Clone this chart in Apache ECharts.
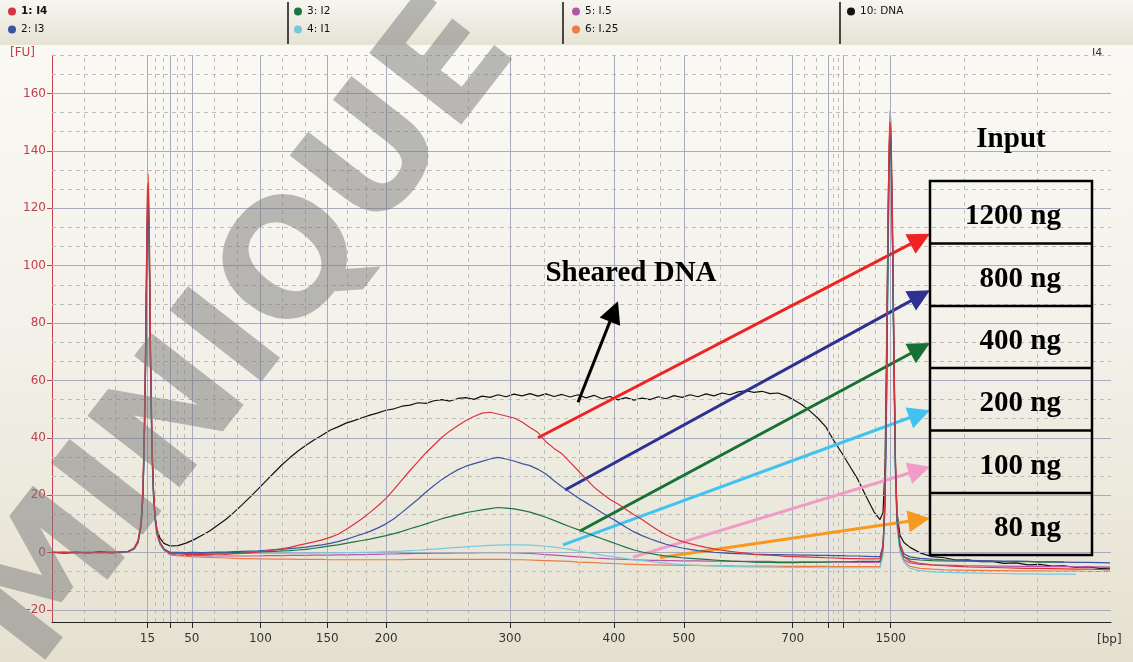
<!DOCTYPE html>
<html>
<head>
<meta charset="utf-8">
<title>Electropherogram</title>
<script src="https://cdn.jsdelivr.net/npm/echarts@6/dist/echarts.min.js"></script>
<style>
  html, body { margin: 0; padding: 0; }
  #chart { width: 1133px; height: 662px; }
</style>
</head>
<body>
<div id="chart"></div>
<script>
// migration position of each sample (bp scale is non-linear)
const xs = [
  0, 12, 24, 36, 48, 60, 70,
  76, 82, 86, 89, 91, 93, 94.5, 95.5, 96.3, 97.3, 98.5, 100, 101.5, 103, 105, 108, 112, 118,
  126, 134, 142, 150, 158, 166, 174, 182, 190, 198,
  206, 214, 222, 230, 238, 246, 254, 262, 270, 278,
  286, 294, 302, 310, 318, 326, 334, 342, 350, 358,
  366, 374, 382, 390, 398, 406, 414, 422, 430, 438,
  446, 454, 462, 470, 478, 486, 494, 502, 510, 518,
  526, 534, 542, 550, 558, 566, 574, 582, 590, 598,
  606, 614, 622, 630, 638, 646, 654, 662, 670, 678,
  686, 694, 702, 710, 718, 726, 734, 742, 750, 758,
  766, 774, 782, 790, 798, 806, 814, 822,
  828, 831, 833, 834.5, 836, 837, 838, 839, 840.5, 842, 843.5, 845, 848, 852, 858,
  868, 880, 892, 904, 916, 928, 940, 952, 964, 976, 988, 1000, 1012, 1024, 1036, 1048, 1058
];

// bp tick marks (position on the migration axis -> label)
const tickPos = [95.5, 118.4, 139.8, 208.4, 275.3, 334.3, 457.9, 562, 632, 740.7, 776.3, 791.3, 838.7];
const tickLabels = ['15', '', '50', '100', '150', '200', '300', '400', '500', '700', '', '', '1500'];
const fuTicks = [-20, 0, 20, 40, 60, 80, 100, 120, 140, 160];

// fluorescence [FU]
const dna = [
  0.2, -0.3, 0.1, -0.2, 0.3, 0.0, 0.2,
  0.4, 1.2, 3.5, 9, 20, 50, 90, 117, 120, 105, 68, 36, 21, 13, 8, 5, 3.2, 2.3,
  2.4, 3.3, 4.5, 6.0, 7.6, 9.6, 11.6, 14.0, 16.6, 19.3,
  22.1, 25.0, 27.8, 30.6, 33.1, 35.4, 37.4, 39.2, 40.9, 42.6,
  43.8, 45.1, 46.0, 47.0, 47.9, 48.7, 49.6, 50.1, 51.0, 51.4,
  52.2, 52.0, 52.9, 53.3, 52.8, 53.7, 54.0, 53.4, 54.5, 54.1,
  55.0, 54.3, 55.2, 54.6, 55.4, 54.5, 55.3, 54.4, 55.1, 54.2,
  55.0, 53.9, 54.8, 53.6, 54.4, 53.2, 54.0, 53.1, 53.8, 53.3,
  54.3, 53.6, 54.7, 54.1, 55.0, 54.3, 55.3, 54.6, 55.6, 55.0,
  56.0, 56.4, 55.8, 56.2, 55.4, 55.6, 54.6, 53.2, 51.5, 49.3,
  46.8, 43.7, 38.9, 34.6, 30.0, 25.4, 19.6, 14.2,
  11.5, 14, 30, 70, 115, 140, 147, 142, 110, 65, 30, 14, 6, 3.5, 1.8,
  -0.1, -1.4, -1.8, -2.6, -2.5, -3.2, -3.1, -3.8, -3.6, -4.3, -4.1, -4.7, -4.6, -5.2, -5.0, -5.5, -5.4
];
const i4 = [
  0.1, 0.0, 0.2, -0.1, 0.1, 0.0, 0.3,
  0.3, 1.5, 4, 10, 22, 56, 100, 126, 129, 112, 72, 38, 22, 13, 7, 3.5, 1.2, -0.3,
  -0.4, -0.6, -0.7, -0.6, -0.7, -0.5, -0.6, -0.4, -0.3, -0.1,
  0.2, 0.5, 0.9, 1.3, 1.8, 2.5, 3.1, 3.7, 4.4, 5.3,
  6.4, 8.0, 9.9, 11.8, 14.0, 16.3, 18.9, 22.0, 25.3, 28.6,
  31.7, 34.8, 37.5, 40.2, 42.4, 44.3, 46.0, 47.4, 48.6, 48.9,
  48.3, 47.6, 46.9, 45.5, 43.6, 41.8, 38.6, 36.3, 34.4, 31.5,
  28.6, 25.7, 22.8, 20.6, 18.5, 16.9, 15.0, 13.2, 11.5, 9.6,
  7.8, 6.2, 4.9, 3.9, 3.1, 2.4, 1.8, 1.3, 0.8, 0.4,
  0.1, -0.2, -0.6, -0.8, -0.9, -1.1, -1.3, -1.4, -1.5, -1.6,
  -1.7, -1.8, -1.9, -2.0, -2.1, -2.1, -2.2, -2.2,
  -2.1, 2, 20, 60, 115, 140, 150, 147, 115, 70, 32, 13, 3, -1.5, -3,
  -3.8, -4.3, -4.6, -4.8, -5.0, -5.1, -5.2, -5.3, -5.4, -5.5, -5.5, -5.6, -5.7, -5.8, -5.8, -5.9, -6.0
];
const i3 = [
  0.0, 0.2, -0.1, 0.1, 0.0, 0.2, 0.1,
  0.3, 1.4, 3.8, 9.5, 21, 53, 95, 120, 124, 106, 68, 36, 21, 12.5, 7, 3.5, 1.3, 0.1,
  0.1, 0.0, 0.1, 0.0, 0.1, 0.2, 0.2, 0.3, 0.4, 0.5,
  0.6, 0.8, 1.0, 1.2, 1.4, 1.6, 1.9, 2.3, 2.7, 3.2,
  3.8, 4.6, 5.5, 6.4, 7.4, 8.6, 10.0, 11.8, 14.0, 16.3,
  18.6, 21.1, 23.4, 25.5, 27.3, 28.9, 30.1, 31.0, 31.8, 32.6,
  33.2, 32.6, 31.9, 31.0, 30.3, 29.0, 27.4, 25.0, 22.9, 21.0,
  19.1, 17.4, 15.7, 13.9, 12.2, 10.6, 8.8, 7.2, 5.9, 4.8,
  3.8, 2.9, 2.2, 1.6, 1.1, 0.7, 0.4, 0.1, -0.1, -0.3,
  -0.4, -0.5, -0.6, -0.6, -0.7, -0.7, -0.8, -0.8, -0.9, -0.9,
  -1.0, -1.0, -1.1, -1.1, -1.2, -1.2, -1.3, -1.4,
  -1.4, 2.5, 18, 55, 108, 135, 146, 143, 110, 66, 30, 12, 3, -0.5, -1.5,
  -2.0, -2.3, -2.5, -2.6, -2.7, -2.8, -2.9, -3.0, -3.0, -3.1, -3.2, -3.2, -3.3, -3.4, -3.4, -3.5, -3.6
];
const i2 = [
  0.1, -0.1, 0.2, 0.0, 0.1, -0.1, 0.2,
  0.3, 1.3, 3.6, 9, 20, 51, 92, 117, 121, 104, 66, 35, 20, 12, 6.5, 3.2, 1.1, -0.1,
  -0.1, -0.2, -0.1, -0.2, -0.1, 0.0, -0.1, 0.0, 0.1, 0.1,
  0.2, 0.3, 0.4, 0.6, 0.7, 0.9, 1.1, 1.5, 1.9, 2.3,
  2.7, 3.2, 3.7, 4.2, 4.7, 5.3, 5.9, 6.6, 7.4, 8.3,
  9.1, 10.0, 10.9, 11.8, 12.5, 13.2, 13.9, 14.4, 14.9, 15.3,
  15.7, 15.5, 15.2, 14.7, 14.1, 13.2, 12.3, 11.2, 10.1, 9.0,
  8.0, 6.9, 5.8, 4.8, 3.8, 2.8, 1.8, 0.9, 0.2, -0.3,
  -0.8, -1.2, -1.5, -1.8, -2.0, -2.2, -2.4, -2.6, -2.8, -3.0,
  -3.1, -3.2, -3.3, -3.4, -3.4, -3.5, -3.5, -3.5, -3.4, -3.4,
  -3.3, -3.3, -3.2, -3.2, -3.2, -3.1, -3.1, -3.1,
  -3.1, 1.5, 17, 52, 104, 132, 143, 140, 108, 63, 28, 11, 2, -1.5, -2.3,
  -2.6, -2.8, -2.9, -3.0, -3.0, -3.1, -3.1, -3.2, -3.2, -3.2, -3.3, -3.3, -3.3, null, null, null, null
];
const i1 = [
  0.1, 0.0, 0.1, -0.1, 0.0, 0.1, 0.0,
  0.2, 1.2, 3.5, 8.5, 19, 48, 88, 113, 118, 100, 63, 33, 19, 11, 6, 2.8, 0.9, -0.2,
  -0.2, -0.3, -0.3, -0.3, -0.3, -0.3, -0.3, -0.3, -0.3, -0.3,
  -0.3, -0.3, -0.3, -0.3, -0.2, -0.2, -0.2, -0.2, -0.1, -0.1,
  -0.1, 0.0, 0.0, 0.1, 0.1, 0.2, 0.3, 0.4, 0.5, 0.7,
  0.8, 1.0, 1.2, 1.4, 1.6, 1.8, 2.0, 2.2, 2.3, 2.5,
  2.6, 2.7, 2.7, 2.7, 2.6, 2.4, 2.2, 1.9, 1.5, 1.1,
  0.6, 0.1, -0.4, -0.9, -1.3, -1.7, -2.1, -2.5, -2.8, -3.1,
  -3.4, -3.7, -4.0, -4.2, -4.4, -4.5, -4.6, -4.7, -4.8, -4.9,
  -4.9, -5.0, -5.0, -5.1, -5.1, -5.1, -5.2, -5.2, -5.2, -5.2,
  -5.3, -5.3, -5.3, -5.3, -5.3, -5.3, -5.3, -5.3,
  -5.3, -1, 14, 48, 98, 125, 138, 136, 104, 60, 26, 9, 0, -3.5, -5.5,
  -6.3, -6.7, -6.9, -7.0, -7.1, -7.2, -7.3, -7.3, -7.4, -7.4, -7.5, -7.5, -7.5, -7.6, null, null, null
];
const i05 = [
  0.0, 0.1, -0.1, 0.1, 0.0, 0.0, 0.1,
  0.2, 1.3, 3.6, 9, 20, 50, 91, 116, 120, 103, 65, 34, 20, 11.5, 6.2, 3, 0.8, -0.6,
  -0.9, -1.0, -1.1, -1.1, -1.2, -1.2, -1.2, -1.2, -1.2, -1.2,
  -1.2, -1.1, -1.1, -1.1, -1.0, -1.0, -1.0, -0.9, -0.9, -0.9,
  -0.8, -0.8, -0.7, -0.7, -0.6, -0.6, -0.5, -0.5, -0.4, -0.4,
  -0.3, -0.3, -0.2, -0.2, -0.2, -0.1, -0.1, -0.1, 0.0, 0.0,
  0.0, 0.0, -0.1, -0.2, -0.3, -0.5, -0.7, -0.9, -1.1, -1.3,
  -1.5, -1.7, -1.9, -2.0, -2.2, -2.3, -2.4, -2.5, -2.6, -2.7,
  -2.7, -2.8, -2.8, -2.9, -2.9, -2.9, -3.0, -3.0, -3.0, -3.0,
  -3.1, -3.1, -3.1, -3.1, -3.1, -3.2, -3.2, -3.2, -3.2, -3.2,
  -3.3, -3.3, -3.3, -3.3, -3.3, -3.4, -3.4, -3.4,
  -3.4, 1, 16, 50, 102, 130, 144, 141, 108, 63, 28, 10, 1, -2.5, -3.6,
  -4.1, -4.3, -4.4, -4.5, -4.6, -4.6, -4.7, -4.7, -4.8, -4.8, -4.8, -4.9, -4.9, -5.0, -5.0, -5.0, -5.1
];
const i025 = [
  0.0, -0.1, 0.1, 0.0, -0.1, 0.1, 0.0,
  0.4, 1.6, 4.2, 11, 24, 58, 102, 128, 132, 114, 73, 39, 22, 13, 7, 3.3, 0.8, -0.8,
  -1.1, -1.3, -1.5, -1.6, -1.7, -1.8, -1.9, -2.0, -2.1, -2.1,
  -2.2, -2.2, -2.3, -2.3, -2.3, -2.4, -2.4, -2.4, -2.4, -2.5,
  -2.5, -2.5, -2.5, -2.5, -2.5, -2.5, -2.5, -2.5, -2.5, -2.4,
  -2.4, -2.4, -2.4, -2.4, -2.4, -2.4, -2.4, -2.4, -2.4, -2.4,
  -2.4, -2.4, -2.5, -2.5, -2.6, -2.7, -2.8, -2.9, -3.0, -3.1,
  -3.3, -3.4, -3.5, -3.7, -3.8, -3.9, -4.0, -4.1, -4.2, -4.3,
  -4.3, -4.4, -4.4, -4.5, -4.5, -4.5, -4.6, -4.6, -4.6, -4.6,
  -4.7, -4.7, -4.7, -4.7, -4.7, -4.8, -4.8, -4.8, -4.8, -4.8,
  -4.8, -4.8, -4.9, -4.9, -4.9, -4.9, -4.9, -4.9,
  -4.9, 0, 18, 58, 114, 142, 154, 150, 117, 70, 31, 11, 1, -3, -4.8,
  -5.5, -5.8, -6.0, -6.1, -6.2, -6.2, -6.3, -6.3, -6.4, -6.4, -6.4, -6.5, -6.5, -6.5, -6.6, -6.6, -6.6
];

// annotation arrows: [position, FU] tail -> tip
const arrowFrom = [[486, 40.0], [513, 21.8], [528, 7.5], [511, 2.7], [581, -1.6], [608, -1.7]];
const arrowTo = [[878, 111.1], [878, 91.4], [878, 73.0], [878, 49.6], [878, 29.9], [878, 12.0]];
const arrowColors = ['#ee2424', '#2e3192', '#177034', '#41c2f1', '#f29bc7', '#f7981f'];
const shearedFrom = [526, 52.4];
const shearedTo = [566, 87.6];
const inputLabels = ['1200 ng', '800 ng', '400 ng', '200 ng', '100 ng', '80 ng'];

const X_MIN = 0, X_MAX = 1059, Y_MIN = -24.2, Y_MAX = 173.4;

const traces = [
  { name: '10: DNA', color: '#111111', values: dna },
  { name: '6: I.25', color: '#ec7b45', values: i025 },
  { name: '5: I.5', color: '#b457a8', values: i05 },
  { name: '4: I1', color: '#78c9dc', values: i1 },
  { name: '3: I2', color: '#1f7444', values: i2 },
  { name: '2: I3', color: '#3b54a3', values: i3 },
  { name: '1: I4', color: '#da3340', values: i4 }
];

// grid lines: solid at ticks, dashed thirds in between
const solid = { color: '#a7abbd', width: 1, type: 'solid' };
const dashed = { color: '#bdbdbd', width: 1, type: [4, 4] };
const gridLines = [];
const bounds = [X_MIN, ...tickPos, X_MAX];
for (let i = 0; i < bounds.length - 1; i++) {
  const a = bounds[i], b = bounds[i + 1];
  gridLines.push({ xAxis: a + (b - a) / 3, lineStyle: dashed });
  gridLines.push({ xAxis: a + (b - a) * 2 / 3, lineStyle: dashed });
}
fuTicks.forEach(v => {
  [v + 20 / 3, v + 40 / 3, v - 20 / 3].forEach(d => {
    if (d > Y_MIN && d <= Y_MAX && !(v > -20 && d < v)) gridLines.push({ yAxis: d, lineStyle: dashed });
  });
});
tickPos.forEach(p => gridLines.push({ xAxis: p, lineStyle: solid }));
fuTicks.forEach(v => gridLines.push({ yAxis: v, lineStyle: solid }));

const chart = echarts.init(document.getElementById('chart'));

const legendCol = (left, names) => ({
  left: left, top: 6, orient: 'vertical', padding: 0, itemGap: 7,
  itemWidth: 8, itemHeight: 8, icon: 'circle', selectedMode: false, z: 10,
  textStyle: { fontFamily: 'DejaVu Sans', fontSize: 10.5, color: '#111' },
  data: names
});

const rowTop = [181, 243.5, 306, 368, 430.5, 493];

chart.setOption({
  animation: false,
  backgroundColor: new echarts.graphic.LinearGradient(0, 0, 0, 1, [
    { offset: 0, color: '#fbfaf6' },
    { offset: 0.5, color: '#f3f1e9' },
    { offset: 1, color: '#e5e1d1' }
  ]),
  grid: { left: 52, right: 22, top: 55, bottom: 40 },
  legend: [
    legendCol(8, [{ name: '1: I4', textStyle: { fontWeight: 'bold' } }, '2: I3']),
    legendCol(294, ['3: I2', '4: I1']),
    legendCol(572, ['5: I.5', '6: I.25']),
    legendCol(847, ['10: DNA'])
  ],
  xAxis: {
    type: 'value', min: X_MIN, max: X_MAX,
    axisLine: { onZero: false, lineStyle: { color: '#222', width: 1 } },
    axisTick: { show: true, customValues: tickPos, length: 6, lineStyle: { color: '#222' } },
    axisLabel: {
      customValues: tickPos, margin: 11, color: '#333', fontSize: 12, fontFamily: 'DejaVu Sans',
      formatter: v => {
        const i = tickPos.findIndex(p => Math.abs(p - v) < 0.01);
        return i >= 0 ? tickLabels[i] : '';
      }
    },
    splitLine: { show: false }
  },
  yAxis: {
    type: 'value', min: Y_MIN, max: Y_MAX,
    axisLine: { show: true, onZero: false, lineStyle: { color: '#c8414f', width: 1 } },
    axisTick: { show: true, customValues: fuTicks, length: 5, lineStyle: { color: '#c8414f' } },
    axisLabel: { customValues: fuTicks, margin: 6, color: '#c0404e', fontSize: 12, fontFamily: 'DejaVu Sans' },
    splitLine: { show: false }
  },
  graphic: [
    { type: 'rect', shape: { x: 0, y: 0, width: 1133, height: 45 }, z: 0, silent: true,
      style: { fill: new echarts.graphic.LinearGradient(0, 0, 0, 1, [
        { offset: 0, color: '#f6f5ef' }, { offset: 1, color: '#e6e3d4' }]) } },
    ...[288, 563, 840].map(x => ({ type: 'line', z: 1, silent: true,
      shape: { x1: x, y1: 2, x2: x, y2: 44 }, style: { stroke: '#111', lineWidth: 1.5 } })),
    { type: 'text', x: 10, y: 53, z: 5, silent: true,
      style: { text: '[FU]', fill: '#c0404e', font: '12px DejaVu Sans', textVerticalAlign: 'middle' } },
    { type: 'text', x: 1092, y: 53, z: 5, silent: true,
      style: { text: 'I4', fill: '#333', font: '11px DejaVu Sans', textVerticalAlign: 'middle' } },
    { type: 'text', x: 1097, y: 640, z: 5, silent: true,
      style: { text: '[bp]', fill: '#333', font: '12px DejaVu Sans', textVerticalAlign: 'middle' } },
    { type: 'text', x: 631, y: 274, z: 20, silent: true,
      style: { text: 'Sheared DNA', fill: '#000', font: 'bold 29px "Liberation Serif"',
        textAlign: 'center', textVerticalAlign: 'middle' } },
    { type: 'text', x: 1011, y: 140, z: 20, silent: true,
      style: { text: 'Input', fill: '#000', font: 'bold 29px "Liberation Serif"',
        textAlign: 'center', textVerticalAlign: 'middle' } },
    { type: 'rect', z: 20, silent: true, shape: { x: 930, y: 181, width: 162, height: 374 },
      style: { fill: 'rgba(0,0,0,0)', stroke: '#000', lineWidth: 2.5 } },
    ...rowTop.slice(1).map(y => ({ type: 'line', z: 20, silent: true,
      shape: { x1: 930, y1: y, x2: 1092, y2: y }, style: { stroke: '#000', lineWidth: 2.5 } })),
    ...inputLabels.map((t, i) => ({ type: 'text', x: 1061, y: rowTop[i] + 36, z: 20, silent: true,
      style: { text: t, fill: '#000', font: 'bold 29px "Liberation Serif"',
        textAlign: 'right', textVerticalAlign: 'middle' } })),
    { type: 'text', x: 245, y: 335, rotation: 0.91, z: 100, silent: true,
      style: { text: 'MINIQUE', fill: 'rgba(120,120,120,0.5)', font: 'bold 160px "DejaVu Sans"',
        textAlign: 'center', textVerticalAlign: 'middle' } }
  ],
  series: [
    { id: 'grid', type: 'line', data: [], silent: true, z: 1,
      markLine: { silent: true, animation: false, symbol: ['none', 'none'], label: { show: false },
        emphasis: { disabled: true }, data: gridLines } },
    ...traces.map((t, k) => ({
      name: t.name, type: 'line', z: 2 + k, showSymbol: false, symbol: 'none',
      connectNulls: false, silent: true,
      itemStyle: { color: t.color }, lineStyle: { color: t.color, width: 1.2 },
      data: xs.map((x, i) => [x, t.values[i]])
    })),
    { id: 'arrows', type: 'line', data: [], silent: true, z: 20 }
  ]
});

// pull arrow ends back so the triangle tip lands on the target point
function pulled(from, to, back) {
  const a = chart.convertToPixel({ gridIndex: 0 }, from);
  const b = chart.convertToPixel({ gridIndex: 0 }, to);
  const dx = b[0] - a[0], dy = b[1] - a[1], len = Math.hypot(dx, dy);
  return chart.convertFromPixel({ gridIndex: 0 }, [b[0] - dx / len * back, b[1] - dy / len * back]);
}
const arrowLines = arrowFrom.map((f, i) => [
  { coord: f, lineStyle: { color: arrowColors[i], width: 3, type: 'solid' }, itemStyle: { color: arrowColors[i] } },
  { coord: pulled(f, arrowTo[i], 11) }
]);
arrowLines.push([
  { coord: shearedFrom, lineStyle: { color: '#000', width: 3, type: 'solid' }, itemStyle: { color: '#000' } },
  { coord: pulled(shearedFrom, shearedTo, 11) }
]);
chart.setOption({
  series: [{ id: 'arrows', markLine: { silent: true, animation: false,
    symbol: ['none', 'triangle'], symbolSize: 22, label: { show: false },
    emphasis: { disabled: true }, data: arrowLines } }]
});
</script>
</body>
</html>
